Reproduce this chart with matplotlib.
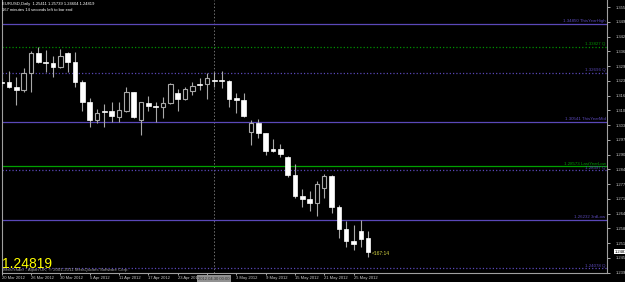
import matplotlib
matplotlib.use('Agg')
import matplotlib.pyplot as plt
import numpy as np
import pandas as pd

# EURUSD daily bars, 20 Mar 2012 .. 29 May 2012
opens = [1.3231, 1.3228, 1.3208, 1.3194, 1.3267, 1.3355, 1.3317, 1.3311, 1.3294, 1.3358,
         1.3316, 1.3230, 1.3140, 1.3062, 1.3101, 1.3101, 1.3076, 1.3103, 1.3184, 1.3062,
         1.3138, 1.3123, 1.3117, 1.3135, 1.3182, 1.3153, 1.3190, 1.3220, 1.3219, 1.3238,
         1.3235, 1.3233, 1.3157, 1.3150, 1.3010, 1.3047, 1.3003, 1.2933, 1.2933, 1.2900,
         1.2819, 1.2727, 1.2712, 1.2695, 1.2761, 1.2815, 1.2680, 1.2580, 1.2530, 1.2573,
         1.25411]
highs = [1.3247, 1.3279, 1.3252, 1.3289, 1.3365, 1.3384, 1.3370, 1.3345, 1.3373, 1.3362,
         1.3362, 1.3238, 1.3157, 1.3110, 1.3131, 1.3142, 1.3142, 1.3208, 1.3186, 1.3142,
         1.3167, 1.3140, 1.3164, 1.3223, 1.3197, 1.3208, 1.3230, 1.3245, 1.3267, 1.3272,
         1.3279, 1.3238, 1.3180, 1.3179, 1.3062, 1.3065, 1.3006, 1.2978, 1.2955, 1.2903,
         1.2868, 1.2756, 1.2749, 1.2793, 1.2824, 1.2819, 1.2687, 1.2617, 1.2599, 1.2621,
         1.25739]
lows = [1.3211, 1.3202, 1.3128, 1.3186, 1.3186, 1.3311, 1.3274, 1.3250, 1.3289, 1.3274,
        1.3208, 1.3103, 1.3032, 1.3047, 1.3032, 1.3054, 1.3054, 1.3098, 1.3069, 1.2996,
        1.3103, 1.3054, 1.3069, 1.3132, 1.3103, 1.3150, 1.3172, 1.3194, 1.3154, 1.3208,
        1.3201, 1.3120, 1.3092, 1.3076, 1.2952, 1.2981, 1.2907, 1.2922, 1.2900, 1.2812,
        1.2717, 1.2680, 1.2662, 1.2640, 1.2719, 1.2653, 1.2541, 1.2504, 1.2489, 1.2504,
        1.24604]
closes = [1.3224, 1.3208, 1.3195, 1.3267, 1.3355, 1.3316, 1.3311, 1.3296, 1.3343, 1.3318,
          1.3230, 1.3140, 1.3062, 1.3091, 1.3097, 1.3079, 1.3106, 1.3184, 1.3073, 1.3140,
          1.3125, 1.3117, 1.3135, 1.3219, 1.3154, 1.3197, 1.3213, 1.3216, 1.3248, 1.3233,
          1.3232, 1.3155, 1.3150, 1.3080, 1.3050, 1.3003, 1.2926, 1.2926, 1.2912, 1.2819,
          1.2727, 1.2712, 1.2695, 1.2780, 1.2815, 1.2680, 1.2580, 1.2530, 1.2516, 1.2538,
          1.24819]

dates = pd.bdate_range('2012-03-20', '2012-05-29')

# horizontal levels drawn by the indicator
level_prices = [1.34850, 1.33827, 1.32696, 1.30541, 1.28573, 1.28397, 1.26232, 1.24078]
level_names = ['ThisYearHigh', 'Q', 'Q', 'ThisYearMid', 'LastYearLow', 'Q', '3rdLow', 'Q']
level_colors = ['#5a48b8', '#009000', '#5a48b8', '#5a48b8', '#00a000', '#5a48b8', '#5a48b8', '#5a48b8']
level_styles = ['-', ':', ':', '-', '-', ':', '-', ':']

price_labels = ['1.35590', '1.34960', '1.34290', '1.33620', '1.32950', '1.32300', '1.31660',
                '1.31020', '1.30380', '1.29730', '1.29080', '1.28420', '1.27780', '1.27140',
                '1.26480', '1.25840', '1.25180', '1.24540', '1.23900']

FS = 3.0  # small MetaTrader text
W, H = 625, 282
fig = plt.figure(figsize=(W / 100, H / 100), dpi=100, facecolor='black')
ax = fig.add_axes([1.7 / W, 9 / H, (607 - 1.7) / W, 273 / H], facecolor='black')

x = np.arange(len(opens))
o = np.array(opens); c = np.array(closes); hi = np.array(highs); lo = np.array(lows)
up = c >= o

ax.vlines(x, lo, hi, color='#a8a8a8', lw=0.8, zorder=3)
body_lo = np.minimum(o, c)
body_h = np.maximum(np.abs(c - o), 0.00035)
ax.bar(x[up], body_h[up], bottom=body_lo[up], width=0.62, color='black',
       edgecolor='#a8a8a8', lw=0.8, zorder=4)
ax.bar(x[~up], body_h[~up], bottom=body_lo[~up], width=0.62, color='white',
       edgecolor='white', lw=0.5, zorder=4)

xmax = (607 - 1.7) / 7.33
ax.set_xlim(0, xmax)
ax.set_ylim(1.23878, 1.35899)

for p, n, col, ls in zip(level_prices, level_names, level_colors, level_styles):
    ax.axhline(p, color=col, ls=ls, lw=0.9, zorder=2)
    ax.text(xmax - 0.2, p + 0.0003, f'{p:.5f} {n}', color=col, fontsize=3.2,
            ha='right', va='bottom', family='Liberation Sans', zorder=5)

# crosshair / period line
ax.axvline(29, color='#707070', ls=(0, (1.5, 2)), lw=0.7, zorder=1)

ax.spines['top'].set_visible(False)
for s in ['left', 'right', 'bottom']:
    ax.spines[s].set_color('#a0a0a0')
    ax.spines[s].set_linewidth(0.8)

ax.yaxis.tick_right()
ax.set_yticks(np.linspace(1.23900, 1.35590, len(price_labels))[::-1])
ax.set_yticklabels(price_labels)
ax.tick_params(axis='y', colors='#c8c8c8', labelsize=FS, length=2, width=0.6, pad=4)

tick_idx = list(range(0, len(dates), 4))
ax.set_xticks(tick_idx)
ax.set_xticklabels([f'{dates[i].day} {dates[i].strftime("%b %Y")}' for i in tick_idx])
ax.tick_params(axis='x', colors='#c8c8c8', labelsize=FS, length=1.5, width=0.6, pad=1)
for lab in ax.get_xticklabels():
    lab.set_horizontalalignment('left')
for lab in ax.get_xticklabels() + ax.get_yticklabels():
    lab.set_family('Liberation Sans')

# current price marker on the price scale
ax.text(1.013, 1.24819, '1.24819', transform=ax.get_yaxis_transform(), fontsize=FS,
        color='black', va='center', ha='left', family='Liberation Sans',
        bbox=dict(boxstyle='square,pad=0.2', fc='white', ec='none'), clip_on=False)

# crosshair date box
fig.text(214 / W, 1 - 278.5 / H, '2012.04.30 00:00', fontsize=FS, color='#303030',
         ha='center', va='center', family='Liberation Sans', zorder=6,
         bbox=dict(boxstyle='square,pad=0.35', fc='#909090', ec='none'))

ax.text(50.55, 1.2472, '<167:14', fontsize=3.6, color='#d0d040', ha='left', va='center',
        family='Liberation Sans')

fig.text(2 / W, 1 - 4.5 / H, 'EURUSD,Daily  1.25411 1.25739 1.24604 1.24819', color='white',
         fontsize=FS, va='center', family='Liberation Sans')
fig.text(2 / W, 1 - 10 / H, '167 minutes 14 seconds left to bar end', color='white',
         fontsize=FS, va='center', family='Liberation Sans')
fig.text(2 / W, 1 - 264 / H, '1.24819', color='#ffff00', fontsize=10, va='center',
         family='Liberation Sans')
fig.text(2 / W, 1 - 270 / H, 'MetaTrader - Alpari UK, \u00a9 2001-2011 MetaQuotes Software Corp.',
         color='#a0a0a0', fontsize=3.2, va='center', family='Liberation Sans')

fig.savefig('out.png', dpi=100, facecolor='black')
